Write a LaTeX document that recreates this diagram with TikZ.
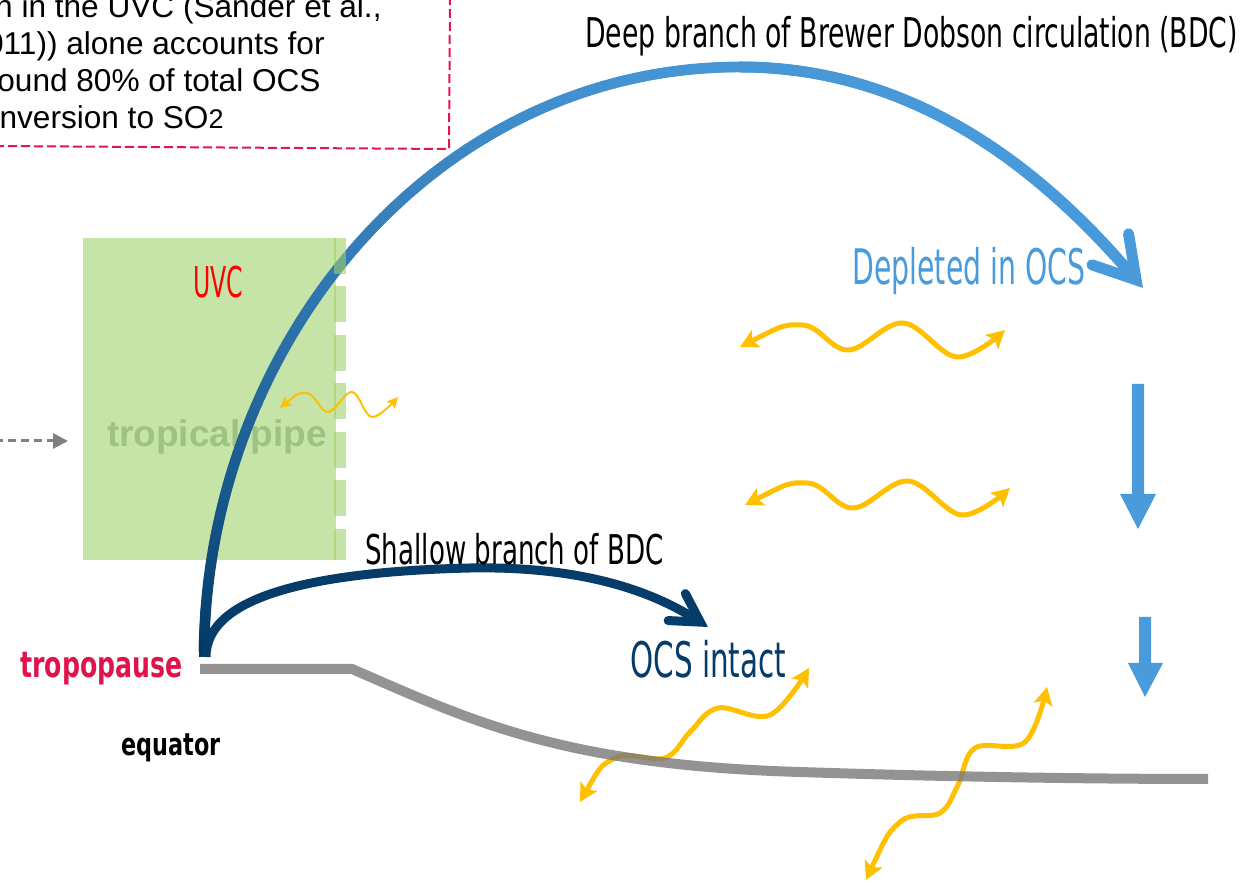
\documentclass[tikz,border=0pt]{standalone}
\usepackage{fontspec}
\usepackage{graphicx}
\usetikzlibrary{arrows.meta,decorations.markings}
\newfontfamily\arialf{Liberation Sans}
\newfontfamily\agf{DejaVu Sans}
\definecolor{crim}{RGB}{226,22,74}
\definecolor{navyd}{RGB}{0,56,100}
\definecolor{navyt}{RGB}{6,60,106}
\definecolor{lb}{RGB}{74,155,220}
\definecolor{yel}{RGB}{255,192,0}
\definecolor{trop}{RGB}{120,120,120}
\definecolor{dgray}{RGB}{128,128,128}
\definecolor{pipeg}{RGB}{198,228,168}
\definecolor{stripg}{RGB}{158,208,105}
\definecolor{pipet}{RGB}{157,194,131}
\definecolor{tropred}{RGB}{224,20,76}
\tikzset{
  boxtxt/.style={inner sep=0pt, anchor=base east, font=\arialf\fontsize{15.8pt}{18pt}\selectfont},
  aglabel/.style={inner sep=0pt, anchor=base west},
  wave/.style={yel, line width=2.5pt, {Stealth[length=9pt,width=9.5pt,inset=2pt]}-{Stealth[length=9pt,width=9.5pt,inset=2pt]}},
  smallwave/.style={yel, line width=1pt, {Stealth[length=5.5pt,width=5.5pt,inset=1pt]}-{Stealth[length=5.5pt,width=5.5pt,inset=1pt]}},
  blockarrow/.style={fill=lb},
}
\begin{document}
\begin{tikzpicture}[x=0.5pt,y=-0.5pt]
\useasboundingbox (0,0) rectangle (1242,886);

% text box
\draw[crim, line width=1pt, dash pattern=on 4.5pt off 2pt] (-5,146) -- (449,149) -- (450,-5);
\node[boxtxt] (l1) at (382,18) {n in the UVC (Sander et al.,};
\node[boxtxt] (l2) at (325,55) {011)) alone accounts for};
\node[boxtxt] (l3) at (321,92) {ound 80\% of total OCS};
\node[boxtxt] (l4) at (224,129) {nversion to SO{\fontsize{13.5pt}{15pt}\selectfont 2}};

% tropical pipe
\node[fill=pipeg, inner sep=0pt, minimum width=126.5pt, minimum height=161pt, anchor=north west] (pipe) at (83,238) {};
\node[inner sep=0pt, anchor=base, text=pipet, font=\arialf\bfseries\fontsize{18.5pt}{20pt}\selectfont] (pipetxt) at (217,447) {tropical pipe};
\node[aglabel, text=red] (uvc) at (193,298) {\agf\fontsize{21.25pt}{24pt}\selectfont\scalebox{0.556}[1]{UVC}};

% dashed gray arrow into pipe
\coordinate (lin) at (-5,441);
\coordinate (lout) at (68,441);
\draw[dgray, line width=1.5pt, dash pattern=on 4pt off 2.5pt, -{Triangle[length=7.5pt,width=7.5pt]}] (lin) -- (lout);

% deep branch (gradient)
\coordinate (deepS) at (204,657);
\coordinate (deepS2) at (204,645);
\coordinate (deepT) at (740,67);
\coordinate (deepE) at (1143,288);
\draw[lb, line width=5.5pt, -{Straight Barb[length=20pt,width=24pt,line cap=round,line join=miter]}] (deepT) .. controls (930,67) and (1060,190) .. (deepE);
\draw[navyd, line width=5.5pt] (deepS) -- (deepS2);
\path[decorate, decoration={markings,
  mark=between positions 3pt and -16pt step 1pt with {
    \pgfmathsetmacro\dfs{\pgfkeysvalueof{/pgf/decoration/mark info/distance from start}}
    \pgfmathsetmacro\ss{min(1,\dfs/\pgfdecoratedpathlength)}
    \pgfmathtruncatemacro\pc{100*(1-(1-\ss)^3)}
    \fill[lb!\pc!navyd] (0,0) circle[radius=2.75pt];
  }}] (deepS) .. controls (204,350) and (430,67) .. (deepT) .. controls (930,67) and (1060,190) .. (deepE);

% shallow branch
\coordinate (shS) at (206,657);
\coordinate (shM) at (470,568);
\coordinate (shE) at (708,627);
\draw[navyt, line width=4.5pt, -{Straight Barb[length=14pt,width=16pt,line cap=round,line join=miter]}] (shS) .. controls (206,600) and (300,572) .. (shM) .. controls (580,566) and (650,590) .. (shE);

% dashed strip at pipe edge
\coordinate (stT) at (340,238);
\coordinate (stB) at (340,560);
\draw[stripg, opacity=0.6, line width=6pt, dash pattern=on 18pt off 6.25pt] (stT) -- (stB);

% waves
\draw[smallwave] plot[smooth, tension=0.6] coordinates {(280,408) (307,393) (328,412) (352,392) (372,417) (398,397)};
\draw[wave] plot[smooth, tension=0.6] coordinates {(740,347) (802,325) (848,350) (903,323) (957,357) (1005,330)};
\draw[wave] plot[smooth, tension=0.6] coordinates {(745,505) (807,483) (853,508) (908,481) (962,515) (1010,488)};
\draw[wave] plot[smooth, tension=0.6] coordinates {(580,802) (615,758) (665,758) (690,732) (718,708) (770,715) (809,668)};
\draw[wave] plot[smooth, tension=0.6] coordinates {(866,880) (900,822) (940,813) (958,785) (975,748) (1025,742) (1047,687)};

% tropopause line
\coordinate (tp0) at (200,669);
\coordinate (tp1) at (352,669);
\coordinate (tp2) at (800,772);
\coordinate (tp3) at (1208,779);
\draw[trop, opacity=0.8, line width=5pt] (tp0) -- (tp1) .. controls (470,720) and (560,765) .. (tp2) .. controls (950,777) and (1100,779) .. (tp3);

% descending block arrows
\fill[blockarrow] (1132,384) -- (1144,384) -- (1144,494) -- (1156,494) -- (1138,529) -- (1120,494) -- (1132,494) -- cycle;
\fill[blockarrow] (1139,617) -- (1151,617) -- (1151,663) -- (1163,663) -- (1145,697) -- (1128,663) -- (1139,663) -- cycle;

% labels
\node[aglabel] (title) at (585,48) {\agf\fontsize{20.5pt}{24pt}\selectfont\scalebox{0.651}[1]{Deep branch of Brewer Dobson circulation (BDC)}};
\node[aglabel, text=lb] (depl) at (852,285) {\agf\fontsize{24.5pt}{28pt}\selectfont\scalebox{0.578}[1]{Depleted in OCS}};
\node[aglabel] (shlab) at (365,565) {\agf\fontsize{20.5pt}{24pt}\selectfont\scalebox{0.637}[1]{Shallow branch of BDC}};
\node[aglabel, text=navyt] (intact) at (630,678) {\agf\fontsize{24.5pt}{28pt}\selectfont\scalebox{0.60}[1]{OCS intact}};
\node[aglabel, text=tropred] (tplab) at (20,678) {\agf\bfseries\fontsize{18pt}{20pt}\selectfont\scalebox{0.70}[1]{tropopause}};
\node[aglabel] (eqlab) at (121,755) {\agf\bfseries\fontsize{15.5pt}{18pt}\selectfont\scalebox{0.72}[1]{equator}};
\end{tikzpicture}
\end{document}
